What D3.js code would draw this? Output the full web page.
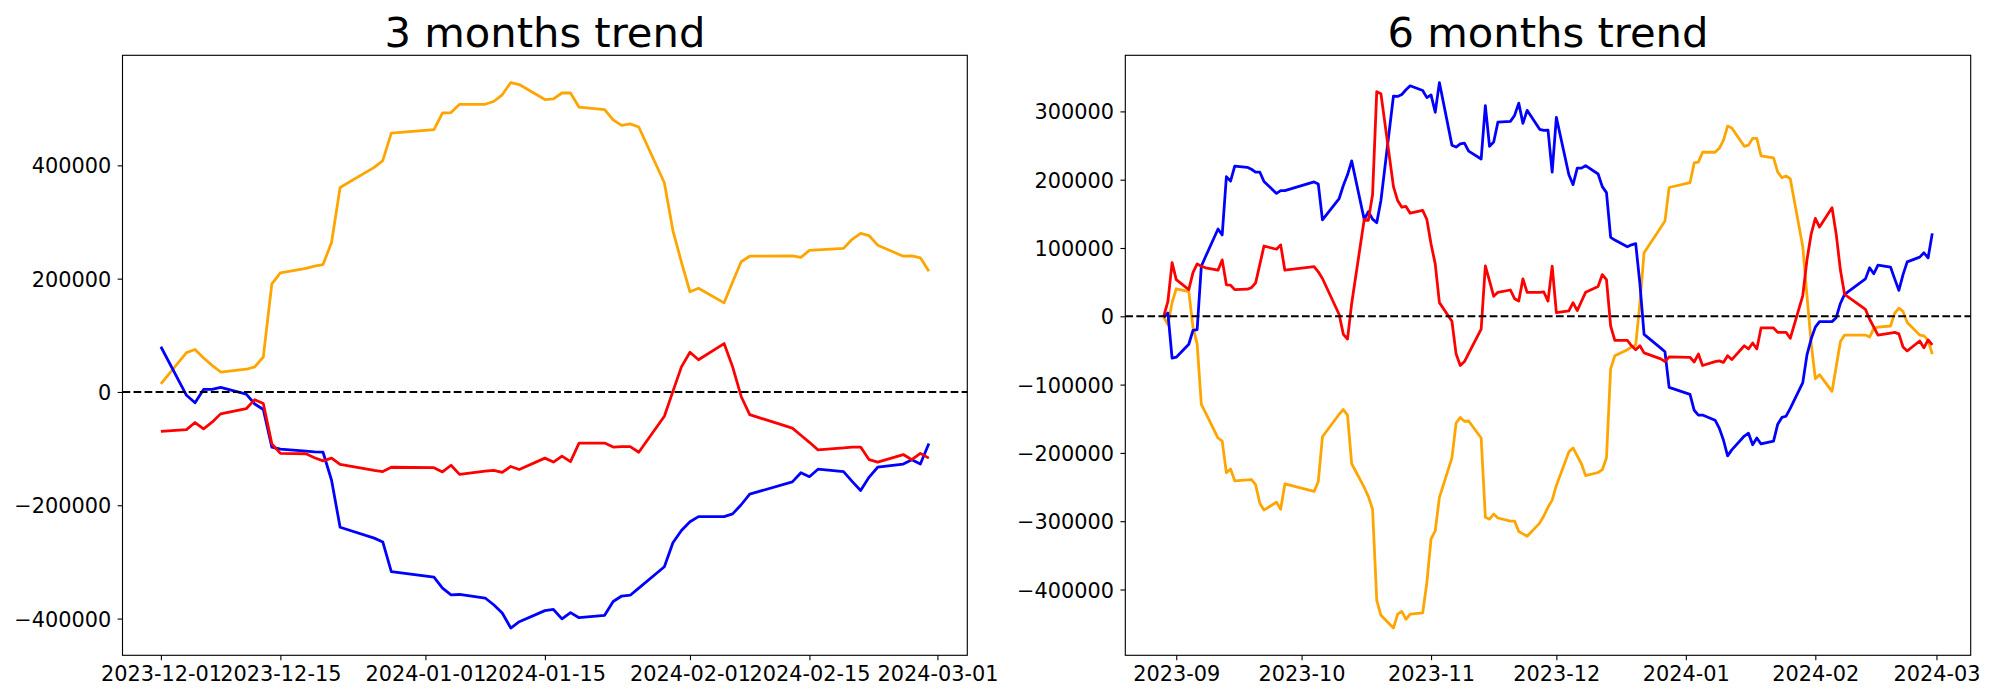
<!DOCTYPE html>
<html>
<head>
<meta charset="utf-8">
<script src="https://cdn.jsdelivr.net/npm/d3@7"></script>
<style>
  html, body { margin: 0; padding: 0; background: #ffffff; }
  svg { display: block; }
</style>
</head>
<body>
<svg id="chart" width="2000" height="700"></svg>
<script>
// ---------------- 3 months data ----------------
const threeDates = [
  "2023-12-01","2023-12-04","2023-12-05","2023-12-06","2023-12-07","2023-12-08",
  "2023-12-11","2023-12-12","2023-12-13","2023-12-14","2023-12-15",
  "2023-12-18","2023-12-19","2023-12-20","2023-12-21","2023-12-22",
  "2023-12-26","2023-12-27","2023-12-28",
  "2024-01-02","2024-01-03","2024-01-04","2024-01-05",
  "2024-01-08","2024-01-09","2024-01-10","2024-01-11","2024-01-12",
  "2024-01-15","2024-01-16","2024-01-17","2024-01-18","2024-01-19",
  "2024-01-22","2024-01-23","2024-01-24","2024-01-25","2024-01-26",
  "2024-01-29","2024-01-30","2024-01-31",
  "2024-02-01","2024-02-02","2024-02-05","2024-02-06","2024-02-07","2024-02-08",
  "2024-02-13","2024-02-14","2024-02-15","2024-02-16",
  "2024-02-19","2024-02-20","2024-02-21","2024-02-22","2024-02-23",
  "2024-02-26","2024-02-27","2024-02-28","2024-02-29"
];
const threeOrange = [
  14300, 69400, 74900, 60000, 47000, 35200, 40100, 44300, 61700, 190700, 210300,
  218000, 222000, 224900, 264000, 360900, 396400, 408300, 456900,
  463100, 492400, 493100, 507800, 507800, 512700, 524500, 546100, 542600,
  516200, 517300, 527700, 527700, 502600, 498300, 480200, 470400, 473200, 467600,
  369200, 284900, 229100,
  176800, 183100, 157300, 194000, 229800, 239600, 240300, 237500, 250000, 250700,
  253500, 269500, 280000, 275800, 259100, 239600, 240300, 236800, 213000
];
const threeRed = [
  -69400, -66600, -54000, -65200, -53400, -38700, -29600, -13600, -20500, -91700, -108400,
  -109100, -116100, -121700, -116800, -128000, -138400, -140500, -132900,
  -133600, -141200, -129400, -145400, -139800, -138400, -141900, -131500, -137000,
  -116800, -123800, -113300, -123100, -90300, -90300, -97300, -96600, -96600, -106400,
  -42900, 1000, 44300,
  70100, 56800, 85400, 44300, -8000, -40100, -63800, -76400, -88900, -102200,
  -98800, -97300, -97300, -119600, -123800, -110500, -119600, -108400, -116800
];
const threeBlue = [
  79800, -5900, -19100, 4500, 4500, 8000, -3800, -21300, -31000, -97300, -100800,
  -104300, -105700, -106400, -155900, -238900, -258000, -264800, -317100,
  -326800, -346300, -358200, -357500, -363700, -375600, -390200, -416700, -405500,
  -386000, -383900, -400600, -389500, -398500, -394300, -369900, -360200, -358800, -346300,
  -308600, -266100, -244500,
  -229100, -220000, -220000, -215200, -199100, -180300, -158700, -142600, -149600, -136400,
  -140500, -157900, -174000, -150300, -132900, -127300, -119600, -127300, -91000
];
const threeXTicks = ["2023-12-01","2023-12-15","2024-01-01","2024-01-15","2024-02-01","2024-02-15","2024-03-01"];
const threeYTicks = [-400000, -200000, 0, 200000, 400000];

// ---------------- 6 months data ----------------
const sixDates = [
  "2023-08-29","2023-08-30","2023-08-31",
  "2023-09-01","2023-09-04","2023-09-05","2023-09-06","2023-09-07","2023-09-08",
  "2023-09-11","2023-09-12","2023-09-13","2023-09-14","2023-09-15",
  "2023-09-18","2023-09-19","2023-09-20","2023-09-21","2023-09-22",
  "2023-09-25","2023-09-26","2023-09-27",
  "2023-10-04","2023-10-05","2023-10-06","2023-10-10","2023-10-11","2023-10-12","2023-10-13",
  "2023-10-16","2023-10-17","2023-10-18","2023-10-19","2023-10-20",
  "2023-10-23","2023-10-24","2023-10-25","2023-10-26","2023-10-27","2023-10-30","2023-10-31",
  "2023-11-01","2023-11-02","2023-11-03","2023-11-06","2023-11-07","2023-11-08","2023-11-09","2023-11-10",
  "2023-11-13","2023-11-14","2023-11-15","2023-11-16","2023-11-17",
  "2023-11-20","2023-11-21","2023-11-22","2023-11-23","2023-11-24",
  "2023-11-27","2023-11-28","2023-11-29","2023-11-30",
  "2023-12-01","2023-12-04","2023-12-05","2023-12-06","2023-12-07","2023-12-08",
  "2023-12-11","2023-12-12","2023-12-13","2023-12-14","2023-12-15",
  "2023-12-18","2023-12-19","2023-12-20","2023-12-21","2023-12-22",
  "2023-12-26","2023-12-27","2023-12-28",
  "2024-01-02","2024-01-03","2024-01-04","2024-01-05",
  "2024-01-08","2024-01-09","2024-01-10","2024-01-11","2024-01-12",
  "2024-01-15","2024-01-16","2024-01-17","2024-01-18","2024-01-19",
  "2024-01-22","2024-01-23","2024-01-24","2024-01-25","2024-01-26",
  "2024-01-29","2024-01-30","2024-01-31",
  "2024-02-01","2024-02-02","2024-02-05","2024-02-06","2024-02-07","2024-02-08",
  "2024-02-13","2024-02-14","2024-02-15","2024-02-16",
  "2024-02-19","2024-02-20","2024-02-21","2024-02-22","2024-02-23",
  "2024-02-26","2024-02-27","2024-02-28","2024-02-29"
];
const sixBlue = [
  -1400, 4900, -61100,
  -59900, -40900, -20600, -19400, 73300, 87200, 127800, 119100, 204300, 197900, 219900,
  218200, 215300, 211200, 211200, 197300, 179900, 184000, 184000,
  196700, 193800, 141100, 172400, 191500, 207200, 227500, 141700, 153300, 142300, 137100, 169500,
  322500, 321900, 324800, 331700, 337500, 330500, 320100,
  324200, 298700, 342200, 250600, 247700, 252400, 253500, 241900, 230300, 308600, 248900, 255300, 284200,
  285400, 294100, 312100, 282500, 301600, 273800, 272100, 272700, 211200,
  291200, 207200, 192700, 217000, 217000, 220500, 208300, 189800, 181100, 115600, 111600,
  101700, 104600, 106300, 47800, -26400, -46600, -51900, -104000,
  -114400, -137600, -144600, -144600, -152100, -163700, -181100, -204300, -195600,
  -175300, -171200, -188000, -178200, -186900, -182800, -157900, -148100, -146300, -134700,
  -97100, -56500, -33300,
  -15900, -7800, -7800, -2000, 18800, 32200, 54800, 71000, 62300, 75000,
  72100, 54800, 38000, 61100, 79700, 86600, 93000, 85500, 121400
];
const sixRed = [
  0, 21700, 78500,
  53600, 39100, 64000, 76800, 73300, 71000, 67500, 82600, 46100, 45500, 39100,
  39700, 42000, 49000, 75600, 102900, 98200, 104600, 67500,
  72700, 65200, 55400, 2600, -26400, -33300, 18800, 141700, 140500, 178200, 328900, 326000,
  189800, 169500, 159700, 160800, 151000, 155000, 141700,
  105800, 76800, 20000, -7200, -55300, -72100, -66300, -54200, -18800, 73900, 51900, 29300, 35100,
  38500, 25800, 22300, 54800, 35100, 35100, 35600, 22300, 73300,
  5500, 7800, 20000, 8400, 21700, 35100, 43800, 61100, 53600, -14200, -35100,
  -35100, -43200, -49000, -43200, -53600, -62300, -66300, -59400,
  -60000, -66900, -55300, -72100, -66300, -65200, -67500, -57700, -63400,
  -43200, -47800, -39100, -47800, -17100, -17100, -23500, -23500, -23500, -32200,
  30400, 82600, 120200,
  143400, 130700, 159100, 120200, 68100, 32200, 10100, -4300, -15900, -27500,
  -24600, -23500, -25800, -44900, -50700, -36200, -46100, -34500, -42000
];
const sixOrange = [
  -1400, -11900, 20000,
  40300, 36200, -15900, -40300, -129000, -141100, -178200, -182800, -229200, -223400, -240800,
  -239600, -239000, -246600, -273800, -283700, -272100, -282500, -245400,
  -256400, -241900, -176400, -143400, -136500, -144600, -215900, -250600, -264000, -282500, -415800, -437800,
  -456400, -436100, -432000, -443600, -436100, -434300, -389700,
  -326000, -314300, -265000, -207200, -156200, -148100, -153800, -153300, -178200, -294100, -297000, -289500, -295300,
  -299900, -299900, -315000, -318500, -322000, -302800, -292400, -279600, -269200,
  -247700, -198500, -192700, -204300, -215900, -233300, -228700, -224600, -207200, -76800, -57700,
  -49000, -44900, -42000, 18800, 93000, 130100, 139400, 188600,
  195600, 224600, 225700, 240200, 240200, 246000, 257600, 278500, 275600,
  248900, 250600, 260500, 260500, 235000, 232100, 211200, 203100, 205400, 201400,
  101700, 30400, -39100,
  -91300, -85500, -109800, -73900, -37400, -27500, -27500, -30400, -17700, -15900,
  -14200, 4300, 11900, 7200, -9000, -27500, -28700, -35100, -55400
];
const sixXTicks = ["2023-09-01","2023-10-01","2023-11-01","2023-12-01","2024-01-01","2024-02-01","2024-03-01"];
const sixYTicks = [-400000, -300000, -200000, -100000, 0, 100000, 200000, 300000];

// ---------------- drawing ----------------
const parse = d3.utcParse("%Y-%m-%d");
const svg = d3.select("#chart");
svg.append("rect").attr("width", 2000).attr("height", 700).attr("fill", "#ffffff");

const FONT = "'DejaVu Sans', sans-serif";
const PT = 100 / 72;

function fmtNum(v) {
  return v < 0 ? "\u2212" + Math.abs(v) : String(v);
}

function drawPanel(cfg) {
  const { left, right, top, bottom, title, dates, series, xTicks, xFmt, yTicks } = cfg;
  const ds = dates.map(parse);
  const t0 = +ds[0], t1 = +ds[ds.length - 1];
  const tPad = (t1 - t0) * 0.05;
  const x = d3.scaleUtc().domain([new Date(t0 - tPad), new Date(t1 + tPad)]).range([left, right]);

  const allVals = series.flatMap(s => s.values);
  const vmin = d3.min(allVals), vmax = d3.max(allVals);
  const vPad = (vmax - vmin) * 0.05;
  const y = d3.scaleLinear().domain([vmin - vPad, vmax + vPad]).range([bottom, top]);

  const g = svg.append("g");

  // lines
  const line = d3.line().x(d => x(d[0])).y(d => y(d[1]));
  series.forEach(s => {
    const pts = ds.map((d, i) => [d, s.values[i]]);
    g.append("path")
      .attr("d", line(pts))
      .attr("fill", "none")
      .attr("stroke", s.color)
      .attr("stroke-width", 2 * PT)
      .attr("stroke-linejoin", "round")
      .attr("stroke-linecap", "butt");
  });

  // zero line
  g.append("line")
    .attr("x1", left).attr("x2", right)
    .attr("y1", y(0)).attr("y2", y(0))
    .attr("stroke", "#000000")
    .attr("stroke-width", 1.5 * PT)
    .attr("stroke-dasharray", `${3.7 * 1.5 * PT},${1.6 * 1.5 * PT}`);

  // x axis
  const xAxis = d3.axisBottom(x)
    .tickValues(xTicks.map(parse))
    .tickFormat(xFmt)
    .tickSize(3.5 * PT)
    .tickPadding(3.5 * PT);
  const gx = g.append("g").attr("transform", `translate(0,${bottom})`).call(xAxis);
  gx.select(".domain").remove();
  gx.selectAll(".tick line").attr("stroke", "#000").attr("stroke-width", 0.8 * PT);
  gx.selectAll(".tick text")
    .attr("font-family", FONT).attr("font-size", 15 * PT)
    .attr("fill", "#000").attr("dy", "0.76em");

  // y axis
  const yAxis = d3.axisLeft(y)
    .tickValues(yTicks)
    .tickFormat(fmtNum)
    .tickSize(3.5 * PT)
    .tickPadding(3.5 * PT + 1.5);
  const gy = g.append("g").attr("transform", `translate(${left},0)`).call(yAxis);
  gy.select(".domain").remove();
  gy.selectAll(".tick line").attr("stroke", "#000").attr("stroke-width", 0.8 * PT);
  gy.selectAll(".tick text")
    .attr("font-family", FONT).attr("font-size", 15 * PT)
    .attr("fill", "#000").attr("dy", "0.36em");

  // frame
  g.append("rect")
    .attr("x", left).attr("y", top)
    .attr("width", right - left).attr("height", bottom - top)
    .attr("fill", "none").attr("stroke", "#000").attr("stroke-width", 0.8 * PT);

  // title
  g.append("text")
    .attr("x", (left + right) / 2).attr("y", top - 6 * PT)
    .attr("text-anchor", "middle")
    .attr("font-family", FONT).attr("font-size", 30 * PT)
    .attr("fill", "#000")
    .text(title);
}

drawPanel({
  left: 122.5, right: 967.3, top: 55.3, bottom: 655.3,
  title: "3 months trend",
  dates: threeDates,
  series: [
    { values: threeOrange, color: "orange" },
    { values: threeBlue, color: "blue" },
    { values: threeRed, color: "red" }
  ],
  xTicks: threeXTicks,
  xFmt: d3.utcFormat("%Y-%m-%d"),
  yTicks: threeYTicks
});

drawPanel({
  left: 1125.3, right: 1970.7, top: 55.3, bottom: 655.3,
  title: "6 months trend",
  dates: sixDates,
  series: [
    { values: sixOrange, color: "orange" },
    { values: sixBlue, color: "blue" },
    { values: sixRed, color: "red" }
  ],
  xTicks: sixXTicks,
  xFmt: d3.utcFormat("%Y-%m"),
  yTicks: sixYTicks
});
</script>
</body>
</html>
